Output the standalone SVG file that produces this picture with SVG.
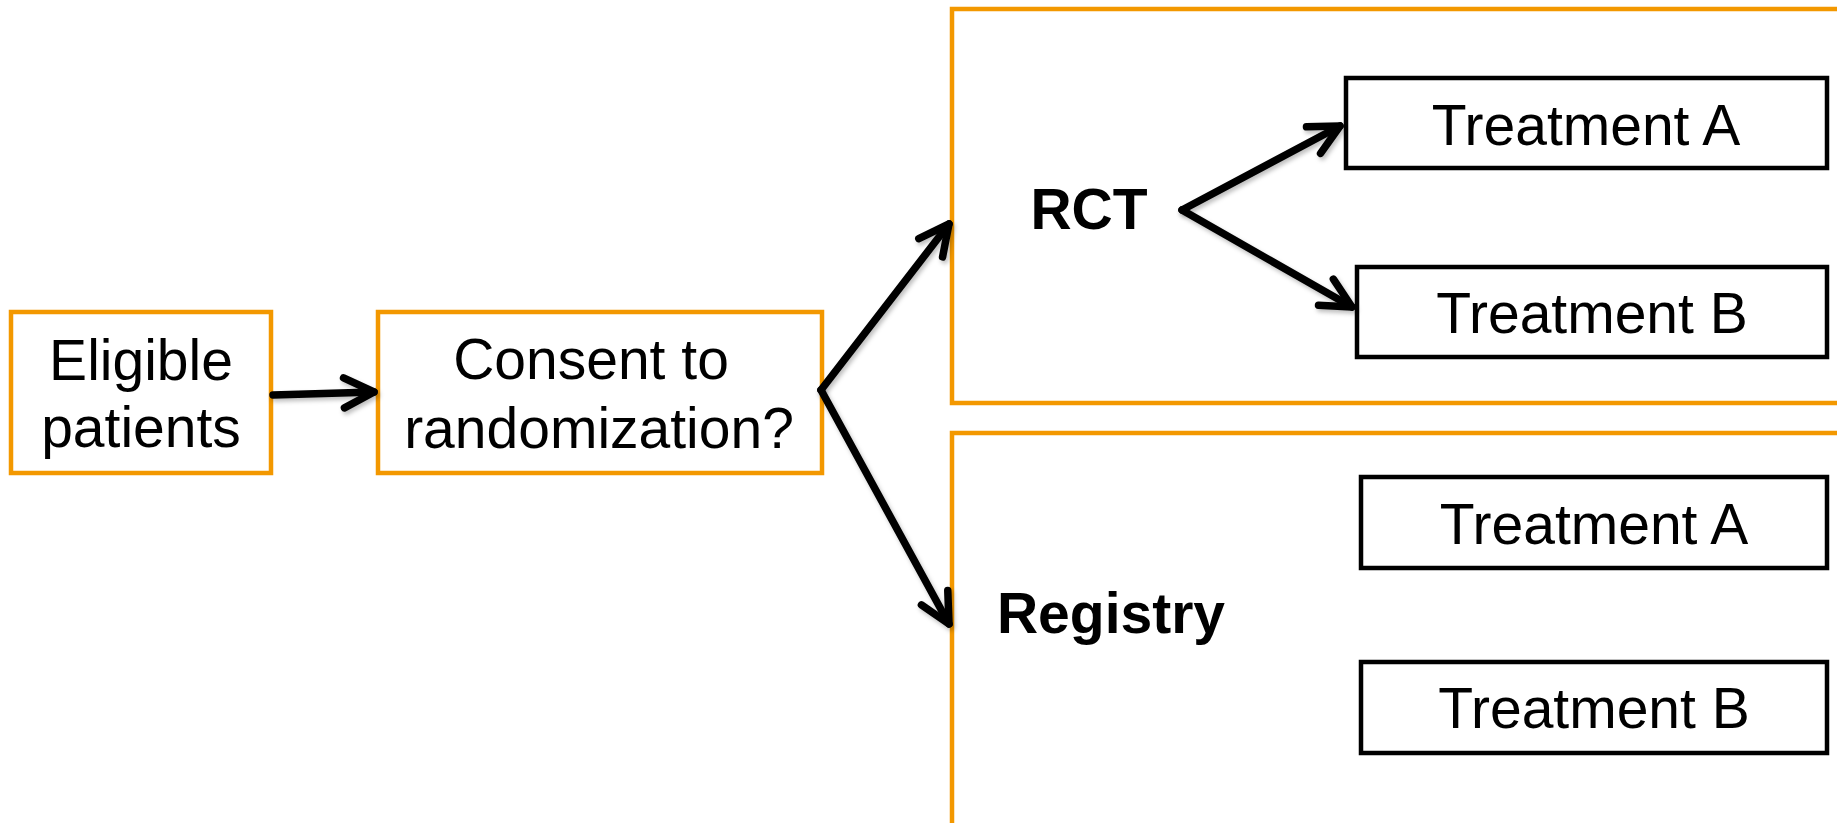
<svg xmlns="http://www.w3.org/2000/svg" width="1837" height="823" viewBox="0 0 1837 823">
  <style>
    .obox { fill: #ffffff; stroke: #F39800; stroke-width: 4.5; }
    .panel { fill: #ffffff; stroke: #F39800; stroke-width: 4.5; }
    .bbox { fill: #ffffff; stroke: #000000; stroke-width: 4.5; }
    .txt { font-family: "Liberation Sans", Arial, sans-serif; font-size: 57px; fill: #000000; text-anchor: middle; }
    .bold { font-weight: bold; }
    .conn { fill: none; stroke: #000000; stroke-width: 7.5; stroke-linecap: round; marker-end: url(#arrow); filter: url(#shadow); }
  </style>
  <defs>
    <marker id="arrow" markerUnits="userSpaceOnUse" viewBox="-40 -22 46 44" refX="0" refY="0" markerWidth="46" markerHeight="44" orient="auto" overflow="visible">
      <path d="M -30 -15 L 0 0 L -30 15" fill="none" stroke="#000000" stroke-width="7.5" stroke-linecap="round" stroke-linejoin="round"/>
    </marker>
    <filter id="shadow" filterUnits="userSpaceOnUse" x="0" y="0" width="1837" height="823">
      <feDropShadow dx="2" dy="3" stdDeviation="2" flood-color="#000000" flood-opacity="0.25"/>
    </filter>
  </defs>
  <rect width="1837" height="823" fill="#ffffff"/>

  <g id="panel-rct">
    <rect class="panel" x="952" y="9" width="900" height="394"/>
    <text class="txt bold" x="1089" y="229">RCT</text>
  </g>
  <g id="panel-registry">
    <rect class="panel" x="952" y="433" width="900" height="420"/>
    <text class="txt bold" x="1111" y="633">Registry</text>
  </g>

  <g id="eligible">
    <rect class="obox" x="11" y="312" width="260" height="161"/>
    <text class="txt" x="141" y="380">Eligible</text>
    <text class="txt" x="141" y="447">patients</text>
  </g>
  <g id="consent">
    <rect class="obox" x="378" y="312" width="444" height="161"/>
    <text class="txt" x="591" y="379">Consent to</text>
    <text class="txt" x="599" y="448">randomization?</text>
  </g>

  <g id="rct-treatment-a">
    <rect class="bbox" x="1346" y="78" width="481" height="90"/>
    <text class="txt" x="1586" y="145">Treatment A</text>
  </g>
  <g id="rct-treatment-b">
    <rect class="bbox" x="1357" y="267" width="470" height="90"/>
    <text class="txt" x="1592" y="333">Treatment B</text>
  </g>
  <g id="registry-treatment-a">
    <rect class="bbox" x="1361" y="477" width="466" height="91"/>
    <text class="txt" x="1594" y="544">Treatment A</text>
  </g>
  <g id="registry-treatment-b">
    <rect class="bbox" x="1361" y="662" width="466" height="91"/>
    <text class="txt" x="1594" y="728">Treatment B</text>
  </g>

  <g id="connectors">
    <path class="conn" d="M 273 395 L 374 392"/>
    <path class="conn" d="M 821 390 L 949 224"/>
    <path class="conn" d="M 821 390 L 949 624"/>
    <path class="conn" d="M 1182 210 L 1340 126"/>
    <path class="conn" d="M 1182 210 L 1352 307"/>
  </g>
</svg>
